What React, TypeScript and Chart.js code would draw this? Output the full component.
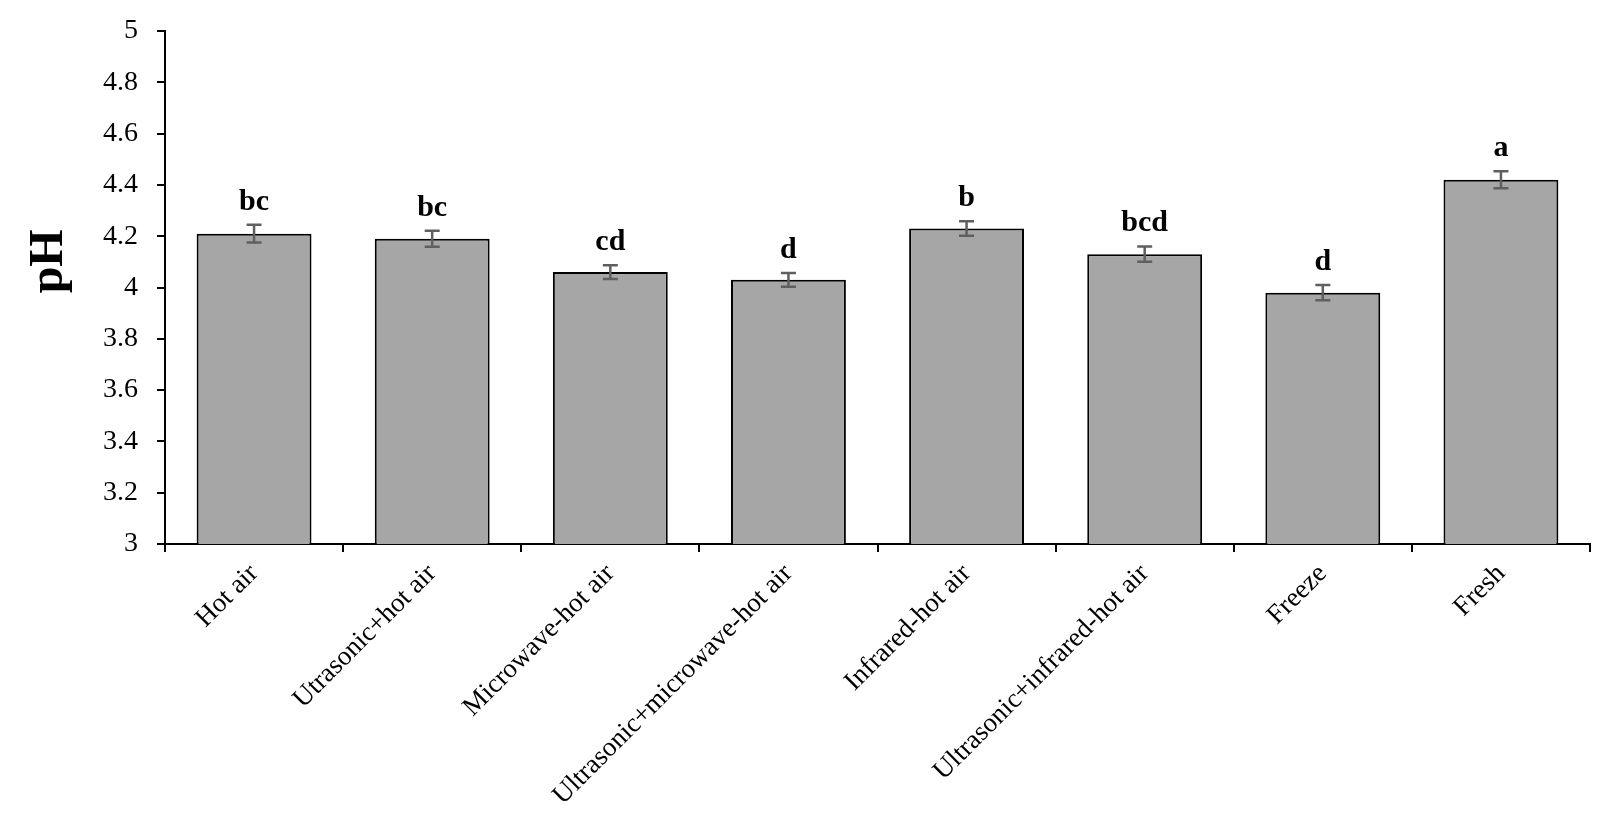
import React, { useEffect, useRef } from "react";
import { Chart, registerables } from "chart.js";

Chart.register(...registerables);

const categories = [
  "Hot air",
  "Utrasonic+hot air",
  "Microwave-hot air",
  "Ultrasonic+microwave-hot air",
  "Infrared-hot air",
  "Ultrasonic+infrared-hot air",
  "Freeze",
  "Fresh",
];
const phValues = [4.21, 4.19, 4.06, 4.03, 4.23, 4.13, 3.98, 4.42];
const phErrors = [0.035, 0.031, 0.027, 0.027, 0.028, 0.03, 0.03, 0.033];
const letters = ["bc", "bc", "cd", "d", "b", "bcd", "d", "a"];
const yAxisTitle = "pH";

const SERIF = '"Liberation Serif", "Times New Roman", serif';

const annotatePlugin = {
  id: "annotate",
  afterDatasetsDraw(chart: any) {
    const ctx = chart.ctx;
    const x = chart.scales.x;
    const y = chart.scales.y;
    ctx.save();
    phValues.forEach((v, i) => {
      const cx = x.getPixelForValue(i);
      const top = y.getPixelForValue(v + phErrors[i]);
      const bot = y.getPixelForValue(v - phErrors[i]);
      ctx.strokeStyle = "#5f5f5f";
      ctx.lineWidth = 2.5;
      ctx.beginPath();
      ctx.moveTo(cx, top);
      ctx.lineTo(cx, bot);
      ctx.moveTo(cx - 7.5, top);
      ctx.lineTo(cx + 7.5, top);
      ctx.moveTo(cx - 7.5, bot);
      ctx.lineTo(cx + 7.5, bot);
      ctx.stroke();
      ctx.fillStyle = "#000";
      ctx.font = `bold 30px ${SERIF}`;
      ctx.textAlign = "center";
      ctx.textBaseline = "alphabetic";
      ctx.fillText(letters[i], cx, top - 15);
    });
    const area = chart.chartArea;
    ctx.translate(42, area.top + (area.bottom - area.top) * 0.449);
    ctx.rotate(-Math.PI / 2);
    ctx.font = `bold 48px ${SERIF}`;
    ctx.textAlign = "center";
    ctx.textBaseline = "middle";
    ctx.fillStyle = "#000";
    ctx.fillText(yAxisTitle, 0, 0);
    ctx.restore();
  },
};

export default function App() {
  const ref = useRef<HTMLCanvasElement>(null);
  useEffect(() => {
    if (!ref.current) return;
    const chart = new Chart(ref.current, {
      type: "bar",
      data: {
        labels: categories,
        datasets: [
          {
            data: phValues,
            backgroundColor: "#a6a6a6",
            borderColor: "#000",
            borderWidth: 2,
            barPercentage: 0.645,
            categoryPercentage: 1,
          },
        ],
      },
      options: {
        animation: false,
        responsive: false,
        layout: { padding: { left: 0, right: 18, top: 23, bottom: 0 } },
        plugins: { legend: { display: false }, tooltip: { enabled: false } },
        scales: {
          x: {
            grid: {
              offset: true,
              drawOnChartArea: false,
              drawTicks: true,
              tickLength: 8,
              color: "#000",
              lineWidth: 2,
            },
            border: { display: true, color: "#000", width: 2 },
            ticks: {
              autoSkip: false,
              minRotation: 45,
              maxRotation: 45,
              color: "#000",
              padding: 6,
              font: { family: SERIF, size: 27 },
            },
            afterFit(scale: any) {
              scale.height = 270;
            },
          },
          y: {
            min: 3,
            max: 5,
            grid: {
              drawOnChartArea: false,
              drawTicks: true,
              tickLength: 8,
              color: "#000",
              lineWidth: 2,
            },
            border: { display: true, color: "#000", width: 2 },
            ticks: {
              stepSize: 0.2,
              color: "#000",
              padding: 19,
              font: { family: SERIF, size: 28 },
              callback: (v: any) => String(Number(Number(v).toFixed(1))),
            },
            afterFit(scale: any) {
              scale.width = 157;
              scale.paddingTop = 0;
              scale.paddingBottom = 0;
            },
          },
        },
      },
      plugins: [annotatePlugin],
    });
    return () => chart.destroy();
  }, []);
  return (
    <div style={{ width: 1600, height: 806 }}>
      <canvas ref={ref} width={1600} height={806} style={{ display: "block" }} />
    </div>
  );
}
